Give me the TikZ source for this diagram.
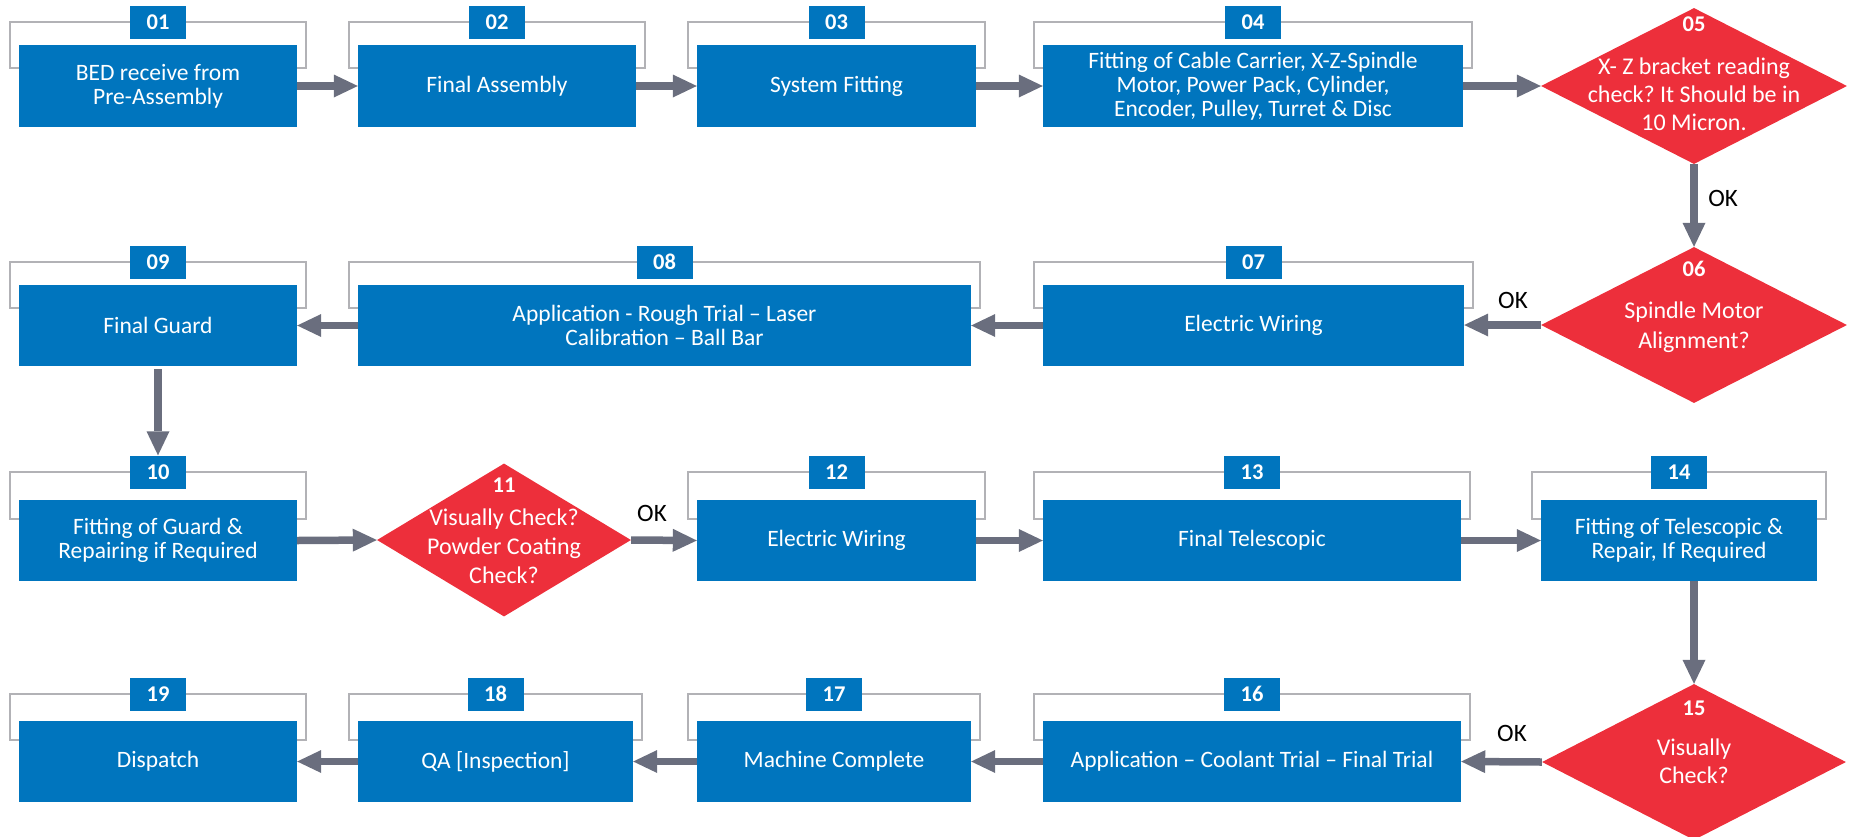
\documentclass[tikz,border=0pt]{standalone}
\usepackage{fontspec}
\setmainfont{Carlito}
\frenchspacing
\usetikzlibrary{arrows.meta,shapes.geometric}
\definecolor{stepblue}{RGB}{0,117,190}
\definecolor{decred}{RGB}{237,47,59}
\definecolor{arrowgray}{RGB}{106,110,126}
\definecolor{brackgray}{RGB}{178,178,182}
\tikzset{
  procbox/.style={fill=stepblue, inner sep=0pt, text=white, align=center,
    font=\fontsize{23.5}{24}\selectfont},
  numbox/.style={fill=stepblue, minimum width=56pt, minimum height=33pt, inner sep=0pt,
    text=white, font=\bfseries\fontsize{22.5}{22.5}\selectfont},
  bracket/.style={draw=brackgray, line width=2.5pt},
  decision/.style={diamond, fill=decred, inner sep=0pt},
  dtext/.style={text=white, font=\fontsize{24}{24}\selectfont, anchor=base, inner sep=0pt},
  dnum/.style={text=white, font=\bfseries\fontsize{22.5}{22.5}\selectfont, anchor=base, inner sep=0pt},
  flow/.style={draw=arrowgray, line width=7.5pt,
    -{Triangle[length=24pt, width=23pt, line width=0pt]}},
  oklabel/.style={text=black, font=\fontsize{25}{25}\selectfont, inner sep=0pt},
}
% name, x-left, x-right, y-top, y-bottom, bracket top, bracket bottom, number, text
\newcommand\procstep[9]{%
  \draw[bracket] (#2-9,#6) rectangle (#3+9,#7);
  \node[procbox, minimum width={#3-#2}, minimum height={#5-#4}] (b#1)
    at ({(#2+#3)/2},{(#4+#5)/2}) {#9};
  \node[numbox] (n#1) at ({(#2+#3)/2},#6) {#8};
}
\begin{document}
\begin{tikzpicture}[x=1pt,y=-1pt]
\useasboundingbox (0,0) rectangle (1855,836);
% Row 1
\procstep{01}{19}{297}{45}{127}{22}{68}{01}{BED receive from\\Pre-Assembly}
\procstep{02}{358}{636}{45}{127}{22}{68}{02}{Final Assembly}
\procstep{03}{697}{976}{45}{127}{22}{68}{03}{System Fitting}
\procstep{04}{1043}{1463}{45}{127}{22}{68}{04}{Fitting of Cable Carrier, X-Z-Spindle\\Motor, Power Pack, Cylinder,\\Encoder, Pulley, Turret \& Disc}
\node[decision, minimum width=306pt, minimum height=156pt] (d05) at (1694,86) {};
\node[dnum] (d05n) at (1694,31) {05};
\node[dtext] (d05a) at (1694,74) {X- Z bracket reading};
\node[dtext] (d05b) at (1694,102) {check? It Should be in};
\node[dtext] (d05c) at (1694,130) {10 Micron.};
% Row 2
\procstep{09}{19}{297}{285}{366}{262}{308}{09}{Final Guard}
\procstep{08}{358}{971}{285}{366}{262}{308}{08}{Application - Rough Trial -- Laser\\Calibration -- Ball Bar}
\procstep{07}{1043}{1464}{285}{366}{262}{308}{07}{Electric Wiring}
\node[decision, minimum width=306pt, minimum height=156pt] (d06) at (1694,325) {};
\node[dnum] (d06n) at (1694,276) {06};
\node[dtext] (d06a) at (1694,318) {Spindle Motor};
\node[dtext] (d06b) at (1694,348) {Alignment?};
% Row 3
\procstep{10}{19}{297}{500}{581}{472}{519}{10}{Fitting of Guard \&\\Repairing if Required}
\node[decision, minimum width=254pt, minimum height=153pt] (d11) at (504,540) {};
\node[dnum] (d11n) at (504,492) {11};
\node[dtext] (d11a) at (504,525) {Visually Check?};
\node[dtext] (d11b) at (504,554) {Powder Coating};
\node[dtext] (d11c) at (504,583) {Check?};
\procstep{12}{697}{976}{500}{581}{472}{519}{12}{Electric Wiring}
\procstep{13}{1043}{1461}{500}{581}{472}{519}{13}{Final Telescopic}
\procstep{14}{1541}{1817}{500}{581}{472}{519}{14}{Fitting of Telescopic \&\\Repair, If Required}
% Row 4
\procstep{19}{19}{297}{721}{802}{694}{740}{19}{Dispatch}
\procstep{18}{358}{633}{721}{802}{694}{740}{18}{QA [Inspection]}
\procstep{17}{697}{971}{721}{802}{694}{740}{17}{Machine Complete}
\procstep{16}{1043}{1461}{721}{802}{694}{740}{16}{Application -- Coolant Trial -- Final Trial}
\node[decision, minimum width=304pt, minimum height=156pt] (d15) at (1694,762) {};
\node[dnum] (d15n) at (1694,715) {15};
\node[dtext] (d15a) at (1694,755) {Visually};
\node[dtext] (d15b) at (1694,783) {Check?};
% Connectors
\draw[flow] (b01.east) -- (b02.west);
\draw[flow] (b02.east) -- (b03.west);
\draw[flow] (b03.east) -- (b04.west);
\draw[flow] (b04.east) -- (d05.west);
\draw[flow] (d05.south) -- (d06.north);
\draw[flow] (d06.west) -- (d06.west -| b07.east);
\draw[flow] (b07.west) -- (b08.east);
\draw[flow] (b08.west) -- (b09.east);
\draw[flow, shorten <=3pt] (b09.south) -- (n10.north);
\draw[flow] (b10.east) -- (d11.west);
\draw[flow] (d11.east) -- (b12.west);
\draw[flow] (b12.east) -- (b13.west);
\draw[flow] (b13.east) -- (b14.west);
\draw[flow] (d15.north |- b14.south) -- (d15.north);
\draw[flow] (d15.west) -- (b16.east);
\draw[flow] (b16.west) -- (b17.east);
\draw[flow] (b17.west) -- (b18.east);
\draw[flow] (b18.west) -- (b19.east);
% OK labels
\node[oklabel] (ok1) at (1723,198) {OK};
\node[oklabel] (ok2) at (1513,300) {OK};
\node[oklabel] (ok3) at (652,513) {OK};
\node[oklabel] (ok4) at (1512,733) {OK};
\end{tikzpicture}
\end{document}
